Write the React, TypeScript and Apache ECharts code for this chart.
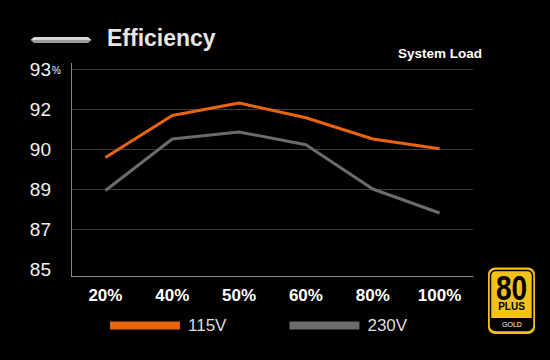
import React, { useEffect, useRef } from "react";
import * as echarts from "echarts";

const categories = ["20%", "40%", "50%", "60%", "80%", "100%"];
const series115 = [89.46, 91.14, 91.64, 91.05, 90.2, 89.81];
const series230 = [88.14, 90.2, 90.48, 89.97, 88.2, 87.24];
const yTickLabels = ["85", "87", "89", "90", "92", "93"];
const yMin = 85;
const yMax = 93;
const yStep = 1.6;

const FONT = "'Liberation Sans', Arial, sans-serif";

export default function App() {
  const ref = useRef<HTMLDivElement>(null);

  useEffect(() => {
    document.body.style.margin = "0";
    document.body.style.background = "#000";
    const chart = echarts.init(ref.current!, null, { renderer: "svg" });
    chart.setOption({
      animation: false,
      backgroundColor: "#000000",
      grid: {
        left: 72,
        right: 77,
        top: 69,
        bottom: 91,
        outerBoundsMode: "none",
      },
      legend: {
        left: 105,
        top: 312,
        icon: "rect",
        itemWidth: 70,
        itemHeight: 8,
        itemGap: 63,
        textStyle: {
          color: "#dddddd",
          fontSize: 17,
          fontFamily: FONT,
          padding: [0, 0, 0, 3],
        },
        data: ["115V", "230V"],
      },
      xAxis: {
        type: "category",
        data: categories,
        boundaryGap: true,
        offset: 7,
        axisLine: { show: true, lineStyle: { color: "#8a8a8a", width: 1 } },
        axisTick: { show: false },
        splitLine: { show: false },
        axisLabel: {
          color: "#ffffff",
          fontSize: 17,
          fontWeight: "bold",
          fontFamily: FONT,
          margin: 11,
        },
      },
      yAxis: {
        type: "value",
        min: yMin,
        max: yMax,
        interval: yStep,
        axisLine: { show: false },
        axisTick: { show: false },
        splitLine: {
          show: true,
          lineStyle: {
            color: ["rgba(0,0,0,0)", "#3c3c3c", "#3c3c3c", "#3c3c3c", "#3c3c3c", "#3c3c3c"],
            width: 1,
          },
        },
        axisLabel: {
          color: "#f2f2f2",
          fontSize: 19,
          fontFamily: FONT,
          margin: 21,
          formatter: (_v: number, i: number) => yTickLabels[i] ?? "",
        },
      },
      series: [
        {
          name: "115V",
          type: "line",
          data: series115,
          showSymbol: false,
          symbol: "none",
          color: "#e8650c",
          lineStyle: { color: "#e8650c", width: 3 },
          itemStyle: { color: "#e8650c" },
          z: 3,
        },
        {
          name: "230V",
          type: "line",
          data: series230,
          showSymbol: false,
          symbol: "none",
          color: "#6b6b6b",
          lineStyle: { color: "#6b6b6b", width: 3 },
          itemStyle: { color: "#6b6b6b" },
          z: 2,
        },
      ],
      graphic: [
        {
          type: "line",
          shape: { x1: 71.5, y1: 63, x2: 71.5, y2: 277 },
          style: { stroke: "#8a8a8a", lineWidth: 1 },
        },
        {
          type: "polygon",
          shape: { points: [[34, 37], [88, 37], [91.5, 40], [30.5, 40]] },
          style: { fill: "#d6d6d6" },
        },
        {
          type: "polygon",
          shape: { points: [[30.5, 40], [91.5, 40], [88, 43], [34, 43]] },
          style: { fill: "#9c9c9c" },
        },
        {
          type: "text",
          style: {
            x: 107,
            y: 37.5,
            text: "Efficiency",
            fill: "#e6e6e6",
            font: `bold 23px ${FONT}`,
            verticalAlign: "middle",
          },
        },
        {
          type: "text",
          style: {
            x: 398,
            y: 53.5,
            text: "System Load",
            fill: "#ffffff",
            font: `bold 13.5px ${FONT}`,
            verticalAlign: "middle",
          },
        },
        {
          type: "text",
          style: {
            x: 52,
            y: 70.5,
            text: "%",
            fill: "#f2f2f2",
            font: `10px ${FONT}`,
            verticalAlign: "middle",
          },
        },
        {
          type: "rect",
          shape: { x: 488, y: 267.5, width: 47, height: 66.5, r: 7 },
          style: { fill: "#f3c21a" },
        },
        {
          type: "rect",
          shape: { x: 490.5, y: 270.5, width: 42, height: 60, r: 5 },
          style: { fill: "#f3c21a", stroke: "#000", lineWidth: 1.5 },
        },
        {
          type: "rect",
          shape: { x: 490.5, y: 318, width: 42, height: 12.5, r: [0, 0, 5, 5] },
          style: { fill: "#000" },
        },
        {
          type: "text",
          x: 511.5,
          y: 288,
          scaleX: 0.8,
          style: {
            x: 0,
            y: 0,
            text: "80",
            fill: "#000",
            font: `bold 35px ${FONT}`,
            align: "center",
            verticalAlign: "middle",
          },
        },
        {
          type: "text",
          style: {
            x: 511.5,
            y: 306,
            text: "PLUS",
            fill: "#000",
            font: `bold 10px ${FONT}`,
            align: "center",
            verticalAlign: "middle",
          },
        },
        {
          type: "text",
          style: {
            x: 512,
            y: 324.5,
            text: "GOLD",
            fill: "#ffffff",
            font: `7px ${FONT}`,
            align: "center",
            verticalAlign: "middle",
          },
        },
      ],
    });
    return () => chart.dispose();
  }, []);

  return (
    <div
      ref={ref}
      style={{ position: "fixed", left: 0, top: 0, width: 550, height: 360, background: "#000" }}
    />
  );
}
